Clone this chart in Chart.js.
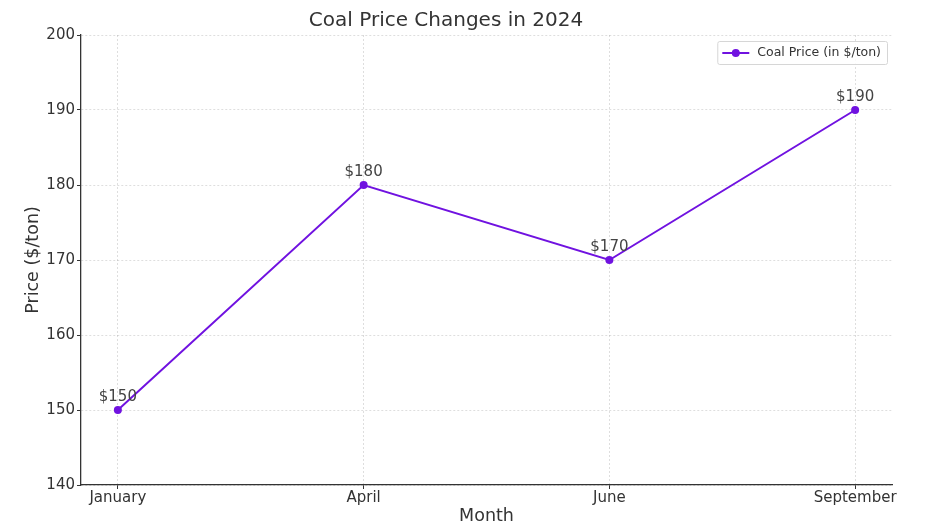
<!DOCTYPE html>
<html>
<head>
<meta charset="utf-8">
<script src="https://cdn.jsdelivr.net/npm/chart.js@4"></script>
<style>
  html, body { margin: 0; padding: 0; background: #fff; }
  #wrap { width: 930px; height: 525px; }
</style>
</head>
<body>
<div id="wrap"><canvas id="coalChart"></canvas></div>
<script>
const months = ['January', 'April', 'June', 'September'];
const prices = [150, 180, 170, 190];
const yTicks = [140, 150, 160, 170, 180, 190, 200];

const lineColor = '#7012e0';
const font = 'DejaVu Sans';

// value labels above each point
const pointLabels = {
    id: 'pointLabels',
    afterDatasetsDraw(chart) {
        const ctx = chart.ctx;
        const meta = chart.getDatasetMeta(0);
        ctx.save();
        ctx.font = '15px "' + font + '"';
        ctx.fillStyle = '#444';
        ctx.textAlign = 'center';
        ctx.textBaseline = 'bottom';
        meta.data.forEach(function (pt, i) {
            ctx.fillText('$' + prices[i], pt.x, pt.y - 5);
        });
        ctx.restore();
    }
};

// legend box inside the plot, top right
const innerLegend = {
    id: 'innerLegend',
    afterDraw(chart) {
        const ctx = chart.ctx;
        const area = chart.chartArea;
        const label = chart.data.datasets[0].label;
        ctx.save();
        ctx.font = '12.5px "' + font + '"';
        const tw = ctx.measureText(label).width;
        const w = tw + 46, h = 23;
        const x = area.right - 5 - w, y = area.top + 6;
        ctx.fillStyle = 'rgba(255,255,255,0.85)';
        ctx.strokeStyle = '#d6d6d6';
        ctx.lineWidth = 1;
        ctx.beginPath();
        ctx.roundRect(x + 0.5, y + 0.5, w, h, 2);
        ctx.fill();
        ctx.stroke();
        const my = y + h / 2 + 0.5;
        ctx.strokeStyle = lineColor;
        ctx.lineWidth = 2;
        ctx.beginPath();
        ctx.moveTo(x + 5, my);
        ctx.lineTo(x + 32, my);
        ctx.stroke();
        ctx.fillStyle = lineColor;
        ctx.beginPath();
        ctx.arc(x + 18.5, my, 4, 0, Math.PI * 2);
        ctx.fill();
        ctx.fillStyle = '#333';
        ctx.textBaseline = 'middle';
        ctx.fillText(label, x + 40, my);
        ctx.restore();
    }
};

const ctx = document.getElementById('coalChart').getContext('2d');
const chart = new Chart(ctx, {
    type: 'line',
    data: {
        datasets: [{
            label: 'Coal Price (in $/ton)',
            data: prices.map(function (p, i) { return { x: i, y: p }; }),
            borderColor: lineColor,
            backgroundColor: lineColor,
            borderWidth: 2,
            pointRadius: 4,
            pointBackgroundColor: lineColor,
            pointBorderWidth: 0,
            tension: 0
        }]
    },
    options: {
        responsive: true,
        maintainAspectRatio: false,
        animation: false,
        layout: { padding: { left: 0, right: 38, top: 0, bottom: 0 } },
        plugins: {
            legend: { display: false },
            tooltip: { enabled: false },
            title: {
                display: true,
                text: 'Coal Price Changes in 2024',
                color: '#333',
                font: { family: font, size: 20, weight: 'normal' },
                padding: { top: 9, bottom: 2 }
            }
        },
        scales: {
            x: {
                type: 'linear',
                min: -0.15,
                max: 3.15,
                afterBuildTicks: function (s) {
                    s.ticks = months.map(function (m, i) { return { value: i }; });
                },
                afterFit: function (s) { s.height = 40; },
                ticks: {
                    color: '#333',
                    font: { family: font, size: 15 },
                    padding: 0,
                    maxRotation: 0,
                    autoSkip: false,
                    callback: function (v) { return months[v]; }
                },
                grid: {
                    color: 'rgba(0,0,0,0.13)',
                    tickColor: '#333',
                    tickLength: 4,
                    tickWidth: 1
                },
                border: { display: true, color: '#333', width: 1.3, dash: [2, 2] },
                title: {
                    display: true,
                    text: 'Month',
                    color: '#333',
                    font: { family: font, size: 17.5, lineHeight: 1 },
                    padding: { top: 0, bottom: 0 }
                }
            },
            y: {
                min: 140,
                max: 200,
                afterBuildTicks: function (s) {
                    s.ticks = yTicks.map(function (v) { return { value: v }; });
                },
                afterFit: function (s) { s.width = 81; },
                ticks: {
                    color: '#333',
                    font: { family: font, size: 15 },
                    padding: 2
                },
                grid: {
                    color: 'rgba(0,0,0,0.13)',
                    tickColor: '#333',
                    tickLength: 4,
                    tickWidth: 1
                },
                border: { display: true, color: '#333', width: 1.3, dash: [2, 2] },
                title: {
                    display: true,
                    text: 'Price ($/ton)',
                    color: '#333',
                    font: { family: font, size: 17.5 },
                    padding: { top: 23, bottom: 0 }
                }
            }
        }
    },
    plugins: [pointLabels, innerLegend]
});
</script>
</body>
</html>
